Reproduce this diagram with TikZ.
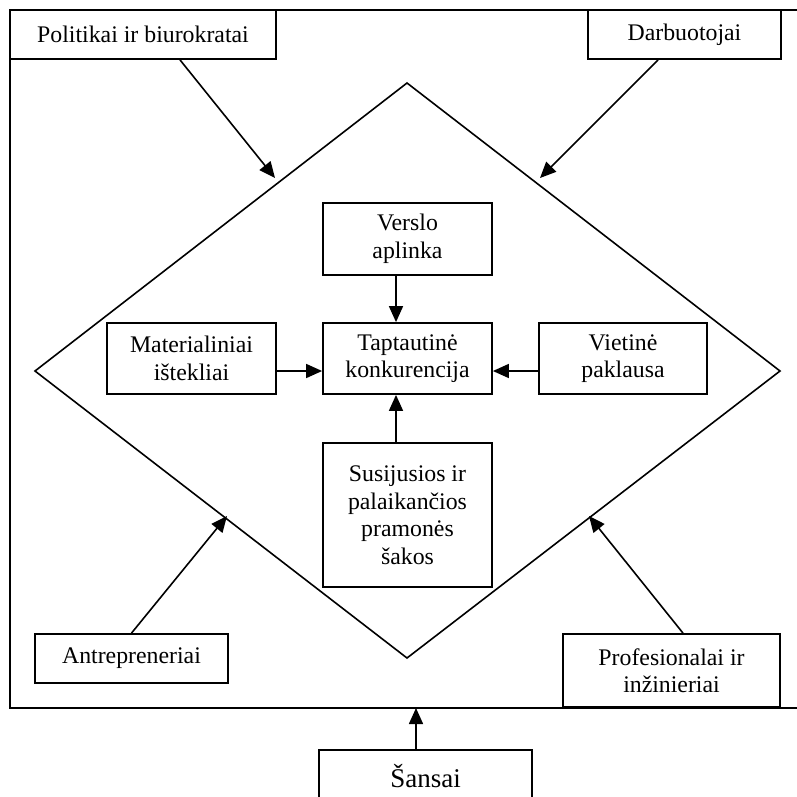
\documentclass[tikz,border=0pt]{standalone}
\usepackage{fontspec}
\setmainfont{Liberation Serif}
\usetikzlibrary{arrows.meta}
\begin{document}
\begin{tikzpicture}[x=1pt,y=-1pt,
  box/.style={draw, line width=1.8pt, align=center, inner sep=0pt,
    font=\fontsize{23.8}{27.5}\selectfont},
  thinline/.style={line width=1.6pt},
  arr/.style={line width=1.6pt, -{Triangle[length=16pt,width=14pt]}}]
\useasboundingbox (0,0) rectangle (797,796);
\clip (0,0) rectangle (797,796);
% outer frame (open on the right)
\draw[line width=1.8pt] (800,10) -- (10,10) -- (10,708) -- (800,708);
\coordinate (fr) at (416,708);
% diamond
\coordinate (dt) at (407,83);
\coordinate (dr) at (780,371);
\coordinate (db) at (407,658);
\coordinate (dl) at (35,371);
\draw[thinline] (dt) -- (dr) -- (db) -- (dl) -- cycle;
% outer boxes
\node[box, minimum width=266pt, minimum height=49pt] (pol) at (143,34.5) {Politikai ir biurokratai};
\node[box, minimum width=193pt, minimum height=49pt] (darb) at (684.5,34.5) {Darbuotojai};
\node[box, minimum width=193pt, minimum height=49pt] (antr) at (131.5,658.5) {Antrepreneriai};
\node[box, minimum width=217pt, minimum height=73pt] (prof) at (671.5,670.5) {Profesionalai ir\\in\v{z}inieriai};
\node[box, minimum width=213pt, minimum height=52pt,
  font=\fontsize{27}{30}\selectfont] (sans) at (425.5,776) {\v{S}ansai};
% inner boxes
\node[box, minimum width=169pt, minimum height=72pt] (vers) at (407.5,239) {Verslo\\aplinka};
\node[box, minimum width=169pt, minimum height=71pt] (tapt) at (407.5,358.5) {Taptautin\.{e}\\konkurencija};
\node[box, minimum width=169pt, minimum height=71pt] (mat) at (191.5,358.5) {Materialiniai\\i\v{s}tekliai};
\node[box, minimum width=168pt, minimum height=71pt] (viet) at (623,358.5) {Vietin\.{e}\\paklausa};
\node[box, minimum width=169pt, minimum height=144pt] (sus) at (407.5,515) {Susijusios ir\\palaikan\v{c}ios\\pramon\.{e}s\\\v{s}akos};
% targets on the diamond
\coordinate (t1) at (275,178);
\coordinate (t2) at (540,178);
\coordinate (t3) at (227,516);
\coordinate (t4) at (589,516);
% connectors
\draw[arr] ([xshift=37pt]pol.south) -- (t1);
\draw[arr] ([xshift=-26.5pt]darb.south) -- (t2);
\draw[arr] (antr.north) -- (t3);
\draw[arr] ([xshift=11.5pt]prof.north) -- (t4);
\draw[arr] ([xshift=-9.5pt]sans.north) -- (fr);
\draw[arr] ([xshift=-11.5pt]vers.south) -- ([xshift=-11.5pt]tapt.north);
\draw[arr] ([xshift=-11.5pt]sus.north) -- ([xshift=-11.5pt]tapt.south);
\draw[arr] ([yshift=-12.5pt]mat.east) -- ([yshift=-12.5pt]tapt.west);
\draw[arr] ([yshift=-12.5pt]viet.west) -- ([yshift=-12.5pt]tapt.east);
\end{tikzpicture}
\end{document}
